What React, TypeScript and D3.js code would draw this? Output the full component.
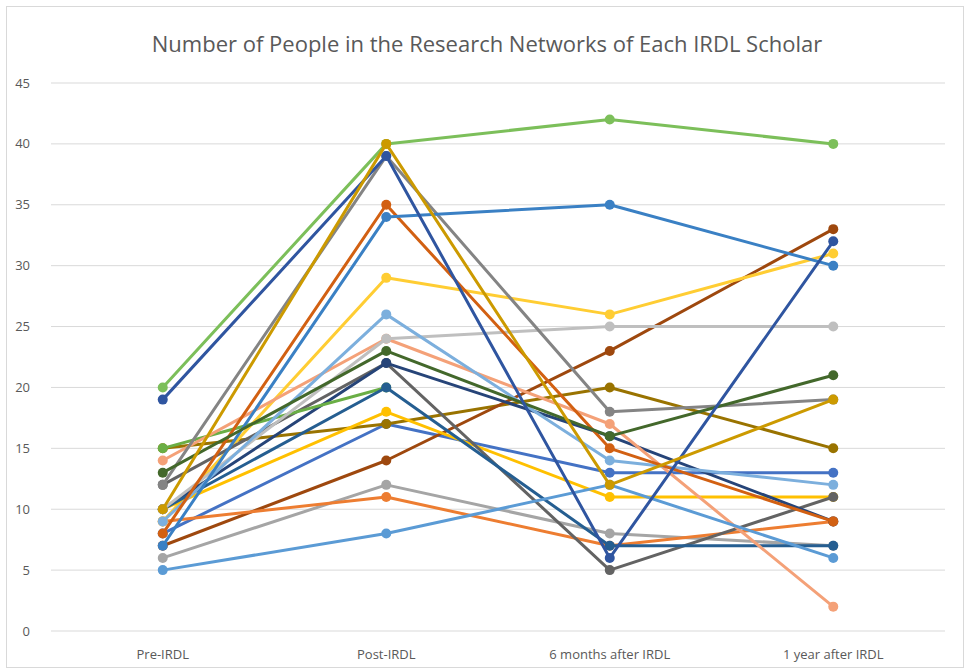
import React, { useEffect, useRef } from 'react';
import * as d3 from 'd3';

// Chart data
const stages = ['Pre-IRDL', 'Post-IRDL', '6 months after IRDL', '1 year after IRDL'];
const yTicks = [0, 5, 10, 15, 20, 25, 30, 35, 40, 45];

// series drawn bottom to top
const scholarColors = [
  '#A5A5A5', '#4472C4', '#997300', '#9E480E', '#ED7D31', '#FFCD33', '#FFC000',
  '#636363', '#264478', '#6AAE45', '#255E91', '#F4A178', '#BFBFBF', '#5B9BD5',
  '#848484', '#7CAFDD', '#D26012', '#3A80C4', '#43682B', '#2F55A0', '#7CBF5A', '#CC9A00',
];

const scholarValues: (number | null)[][] = [
  [6, 12, 8, 7],
  [8, 17, 13, 13],
  [15, 17, 20, 15],
  [7, 14, 23, 33],
  [9, 11, 7, 9],
  [9, 29, 26, 31],
  [10, 18, 11, 11],
  [12, 22, 5, 11],
  [10, 22, 16, 9],
  [15, 20, null, null],
  [10, 20, 7, 7],
  [14, 24, 17, 2],
  [10, 24, 25, 25],
  [5, 8, 12, 6],
  [12, 39, 18, 19],
  [9, 26, 14, 12],
  [8, 35, 15, 9],
  [7, 34, 35, 30],
  [13, 23, 16, 21],
  [19, 39, 6, 32],
  [20, 40, 42, 40],
  [10, 40, 12, 19],
];

function App() {
  const svgRef = useRef<SVGSVGElement | null>(null);

  useEffect(() => {
    if (!svgRef.current) return;
    const width = 967;
    const height = 671;
    const margin = { top: 83, right: 22, bottom: 40, left: 51 };

    const svg = d3.select(svgRef.current);
    svg.selectAll('*').remove();

    svg.append('rect')
      .attr('x', 6.5).attr('y', 6.5)
      .attr('width', width - 10).attr('height', height - 10)
      .attr('fill', '#fff')
      .attr('stroke', '#D9D9D9');

    const x = d3.scaleBand()
      .domain(stages)
      .range([margin.left, width - margin.right]);

    const y = d3.scaleLinear()
      .domain([0, 45])
      .range([height - margin.bottom, margin.top]);

    // Title
    svg.append('text')
      .attr('x', 487)
      .attr('y', 52)
      .attr('text-anchor', 'middle')
      .attr('font-family', 'Open Sans, sans-serif')
      .attr('font-size', 22)
      .attr('fill', '#595959')
      .text('Number of People in the Research Networks of Each IRDL Scholar');

    // Gridlines + y labels
    const grid = svg.append('g');
    yTicks.forEach(t => {
      grid.append('line')
        .attr('x1', margin.left).attr('x2', width - margin.right)
        .attr('y1', y(t)).attr('y2', y(t))
        .attr('stroke', '#D9D9D9')
        .attr('stroke-width', 1);
      grid.append('text')
        .attr('x', 30)
        .attr('y', y(t))
        .attr('dy', '0.35em')
        .attr('text-anchor', 'end')
        .attr('font-family', 'Open Sans, sans-serif')
        .attr('font-size', 13)
        .attr('fill', '#595959')
        .text(t);
    });

    // Category labels
    stages.forEach(s => {
      svg.append('text')
        .attr('x', (x(s) ?? 0) + x.bandwidth() / 2)
        .attr('y', 659)
        .attr('text-anchor', 'middle')
        .attr('font-family', 'Open Sans, sans-serif')
        .attr('font-size', 13)
        .attr('fill', '#595959')
        .text(s);
    });

    const cx = (i: number) => (x(stages[i]) ?? 0) + x.bandwidth() / 2;

    const line = d3.line<number | null>()
      .defined(d => d !== null)
      .x((d, i) => cx(i))
      .y(d => y(d as number));

    const series = svg.append('g');
    scholarValues.forEach((vals, k) => {
      const color = scholarColors[k];
      const g = series.append('g');
      g.append('path')
        .datum(vals)
        .attr('d', line)
        .attr('fill', 'none')
        .attr('stroke', color)
        .attr('stroke-width', 3)
        .attr('stroke-linejoin', 'round')
        .attr('stroke-linecap', 'round');
      vals.forEach((v, i) => {
        if (v === null) return;
        g.append('circle')
          .attr('cx', cx(i))
          .attr('cy', y(v))
          .attr('r', 5)
          .attr('fill', color);
      });
    });
  }, []);

  return (
    <div style={{ position: 'absolute', left: 0, top: 0 }}>
      <svg ref={svgRef} width={967} height={671} style={{ display: 'block' }}></svg>
    </div>
  );
}

export default App;
